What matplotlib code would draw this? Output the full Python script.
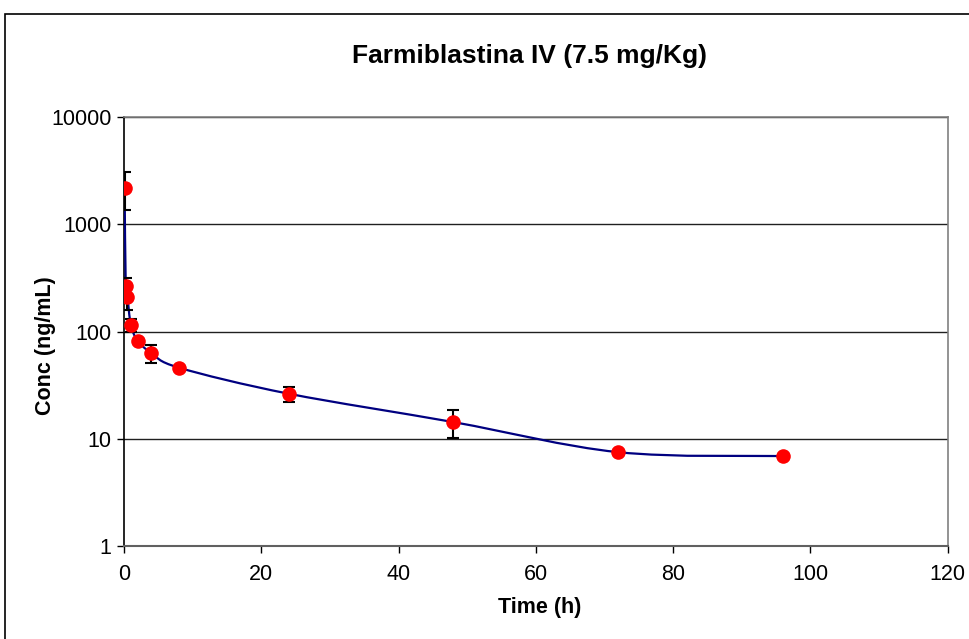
import numpy as np
import matplotlib
matplotlib.use("Agg")
import matplotlib.pyplot as plt
from matplotlib.path import Path
from matplotlib.patches import PathPatch, Rectangle

plt.rcParams["font.family"] = ["Liberation Sans", "DejaVu Sans"]

# Mean plasma concentration after IV dose, with SD
time_h = [0.083, 0.25, 0.5, 1, 2, 4, 8, 24, 48, 72, 96]
conc = [2200, 265, 210, 115, 82, 63, 46, 26.3, 14.3, 7.5, 6.9]
conc_sd = [850, 50, 52, 17, 0, 12, 0, 4.2, 4.2, 0, 0]


def smooth_path(x, y):
    """Excel-style smoothed line: cubic Bezier through the points,
    built in (x, log10 y) so it stays smooth on the log axis."""
    px = np.asarray(x, float)
    py = np.log10(np.asarray(y, float))
    n = len(px)
    verts = [(px[0], py[0])]
    codes = [Path.MOVETO]
    for i in range(n - 1):
        i0 = max(i - 1, 0)
        i3 = min(i + 2, n - 1)
        c1 = (px[i] + (px[i + 1] - px[i0]) / 6, py[i] + (py[i + 1] - py[i0]) / 6)
        c2 = (px[i + 1] - (px[i3] - px[i]) / 6, py[i + 1] - (py[i3] - py[i]) / 6)
        verts += [c1, c2, (px[i + 1], py[i + 1])]
        codes += [Path.CURVE4] * 3
    verts = [(vx, 10 ** vy) for vx, vy in verts]
    return Path(verts, codes)


fig = plt.figure(figsize=(9.69, 6.39), dpi=100)
ax = fig.add_axes([0.128, 0.1455, 0.850, 0.6714])

ax.set_yscale("log")
ax.set_xlim(0, 120)
ax.set_ylim(1, 10000)
ax.set_xticks(np.arange(0, 121, 20))
ax.set_yticks([1, 10, 100, 1000, 10000])
ax.set_yticklabels(["1", "10", "100", "1000", "10000"])
ax.yaxis.set_minor_locator(matplotlib.ticker.NullLocator())

ax.grid(axis="y", color="#202020", linewidth=1.0)
ax.set_axisbelow(True)

for side in ("top", "right"):
    ax.spines[side].set_color("#808080")
    ax.spines[side].set_linewidth(1.2)
ax.spines["left"].set_color("black")
ax.spines["bottom"].set_color("#606060")
ax.spines["left"].set_linewidth(1.2)
ax.spines["bottom"].set_linewidth(1.5)

ax.tick_params(axis="both", direction="out", length=5, width=1.0,
               labelsize=15.5, color="black")
ax.tick_params(axis="x", pad=8)
ax.tick_params(axis="y", pad=4)

curve = PathPatch(smooth_path(time_h, conc), fill=False,
                  edgecolor="#000080", linewidth=1.6, zorder=3)
ax.add_patch(curve)

sd = np.array(conc_sd)
ax.errorbar(time_h, conc, yerr=np.where(sd > 0, sd, np.nan), fmt="none",
            ecolor="black", elinewidth=1.5, capsize=4, capthick=1.5,
            zorder=4)
ax.plot(time_h, conc, "o", color="red", markersize=10.5,
        markeredgewidth=0, zorder=5)

# axis titles and chart title placed in figure pixels
fig.text(540 / 969, 1 - 607 / 639, "Time (h)", ha="center", va="center",
         fontsize=15.5, fontweight="bold")
fig.text(45.5 / 969, 1 - 346 / 639, "Conc (ng/mL)", ha="center",
         va="center", rotation=90, fontsize=15.5, fontweight="bold")
fig.text(530 / 969, 1 - 56 / 639, "Farmiblastina IV (7.5 mg/Kg)",
         ha="center", va="center", fontsize=19, fontweight="bold")

# chart area border
fig.add_artist(Rectangle((5 / 969, -0.05), 1.1, 1 - 14 / 639 + 0.05,
                         transform=fig.transFigure, fill=False,
                         edgecolor="black", linewidth=1.2))

fig.savefig("out.png", dpi=100)
